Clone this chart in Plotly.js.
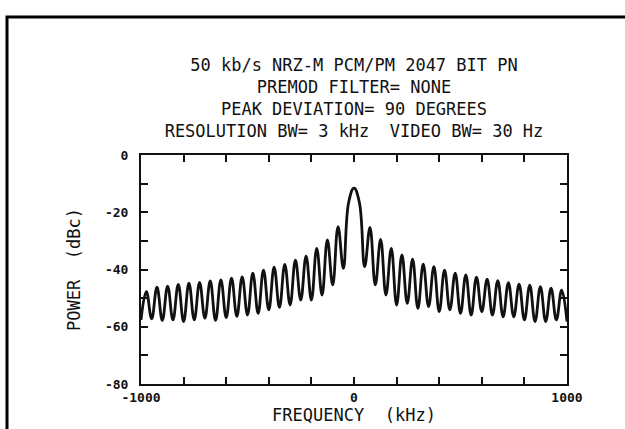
<!DOCTYPE html>
<html>
<head>
<meta charset="utf-8">
<script src="https://cdn.plot.ly/plotly-3.0.1.min.js"></script>
<style>html,body{margin:0;padding:0;background:#fff;}#chart{width:625px;height:429px;}</style>
</head>
<body>
<div id="chart"></div>
<script>
// Title lines
const titleLines = [
  "50 kb/s NRZ-M PCM/PM 2047 BIT PN",
  "PREMOD FILTER= NONE",
  "PEAK DEVIATION= 90 DEGREES",
  "RESOLUTION BW= 3 kHz  VIDEO BW= 30 Hz"
];
// Spectrum points (lobe peaks and nulls)
const freqKHz = [
  -1000,-975,-950,-925,-900,-875,-850,-825,-800,-775,-750,-725,-700,-675,-650,-625,-600,-575,-550,-525,
  -500,-475,-450,-425,-400,-375,-350,-325,-300,-275,-250,-225,-200,-175,-150,-125,-100,-75,-50,-25,
  0,
  25,50,75,100,125,150,175,200,225,250,275,300,325,350,375,400,425,450,475,500,
  525,550,575,600,625,650,675,700,725,750,775,800,825,850,875,900,925,950,975,1000
];
const powerDbc = [
  -57.6,-47.7,-57.2,-46.2,-57.8,-45.8,-57.6,-45.2,-58.2,-44.8,-57.6,-44.5,-57.0,-44.0,-57.8,-43.6,-56.8,-43.0,-56.4,-42.6,
  -55.9,-41.3,-55.3,-40.2,-54.1,-39.2,-53.2,-38.2,-52.4,-36.7,-50.7,-35.3,-50.7,-32.6,-48.9,-29.7,-45.4,-25.0,-39.6,-16.5,
  -11.6,
  -16.5,-39.0,-25.3,-45.4,-29.5,-48.9,-32.6,-52.4,-34.9,-51.8,-36.4,-53.6,-38.1,-53.0,-39.0,-54.7,-40.2,-54.1,-41.3,-55.3,
  -41.9,-55.9,-42.7,-54.7,-43.4,-55.9,-43.9,-56.5,-44.6,-56.5,-45.1,-57.6,-45.5,-58.2,-46.0,-58.2,-46.5,-57.6,-47.2,-58.2
];
// Axis ticks
const xTickVals = [-1000,-800,-600,-400,-200,0,200,400,600,800,1000];
const xTickText = ["-1000","","","","","0","","","","","1000"];
const yTickVals = [0,-10,-20,-30,-40,-50,-60,-70,-80];
const yTickText = ["0","","-20","","-40","","-60","","-80"];

const FONT = "DejaVu Sans Mono, monospace";
const INK = "#111";

const trace = {
  x: freqKHz, y: powerDbc, type: "scatter", mode: "lines",
  line: {color: INK, width: 2.8, shape: "spline", smoothing: 1.2},
  hoverinfo: "skip", showlegend: false
};

const axisCommon = {
  showgrid: false, zeroline: false, showline: true, linecolor: INK, linewidth: 2,
  mirror: "ticks", ticks: "inside", ticklen: 7, tickwidth: 2, tickcolor: INK,
  tickfont: {family: FONT, size: 13, color: INK, weight: "bold"}, tickmode: "array"
};

const layout = {
  width: 625, height: 429,
  margin: {l: 141, r: 58, t: 155, b: 45, pad: 0},
  paper_bgcolor: "#fff", plot_bgcolor: "#fff",
  font: {family: FONT, color: INK},
  title: {
    text: titleLines.join("<br>"),
    font: {family: FONT, size: 17, color: INK},
    x: 0.5, xref: "paper", xanchor: "center",
    y: 1 - 71/429, yref: "container", yanchor: "top"
  },
  xaxis: Object.assign({}, axisCommon, {
    range: [-1000, 1000], tickvals: xTickVals, ticktext: xTickText, ticklabelstandoff: 0,
    title: {text: "FREQUENCY  (kHz)", font: {family: FONT, size: 17, color: INK}, standoff: 0}
  }),
  yaxis: Object.assign({}, axisCommon, {
    range: [-80, 0], tickvals: yTickVals, ticktext: yTickText, ticklabelstandoff: 8,
    title: {text: "POWER  (dBc)", font: {family: FONT, size: 17, color: INK}, standoff: 20}
  }),
  shapes: [{
    type: "rect", xref: "paper", yref: "paper",
    x0: (7 - 141) / 426, x1: (640 - 141) / 426,
    y0: (384 - 440) / 229, y1: (384 - 17) / 229,
    line: {color: "#000", width: 3}, fillcolor: "rgba(0,0,0,0)", layer: "below"
  }]
};

Plotly.newPlot("chart", [trace], layout, {displayModeBar: false, staticPlot: true});
</script>
</body>
</html>
